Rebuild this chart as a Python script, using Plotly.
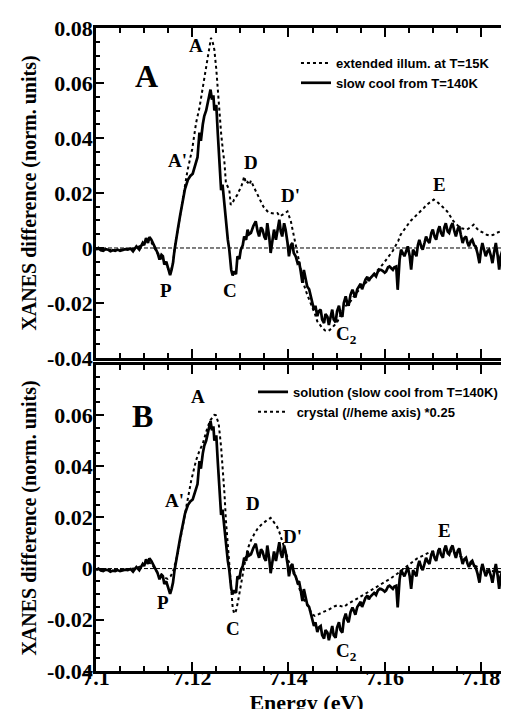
import plotly.graph_objects as go

# ---------------- data (energy in keV as labelled on the axis) ----------------
solid_E = [7.1000, 7.1005, 7.1010, 7.1015, 7.1020, 7.1025, 7.1030, 7.1035, 7.1040, 7.1045,
           7.1050, 7.1056, 7.1061, 7.1066, 7.1072, 7.1077, 7.1084, 7.1090, 7.1097, 7.1100,
           7.1104, 7.1108, 7.1111, 7.1115, 7.1118, 7.1122, 7.1128, 7.1132, 7.1136, 7.1139,
           7.1142, 7.1146, 7.1149, 7.1152, 7.1154, 7.1157, 7.1160, 7.1163, 7.1166, 7.1170,
           7.1175, 7.1180, 7.1185, 7.1191, 7.1196, 7.1201, 7.1206, 7.1211, 7.1215, 7.1218,
           7.1222, 7.1225, 7.1229, 7.1232, 7.1236, 7.1238, 7.1241, 7.1244, 7.1246, 7.1250,
           7.1253, 7.1256, 7.1260, 7.1263, 7.1266, 7.1270, 7.1274, 7.1277, 7.1281, 7.1284,
           7.1287, 7.1291, 7.1294, 7.1298, 7.1301, 7.1305, 7.1308, 7.1312, 7.1315, 7.1318,
           7.1322, 7.1327, 7.1332, 7.1336, 7.1339, 7.1343, 7.1346, 7.1350, 7.1353, 7.1356,
           7.1360, 7.1363, 7.1367, 7.1370, 7.1374, 7.1378, 7.1381, 7.1384, 7.1387, 7.1391,
           7.1394, 7.1398, 7.1401, 7.1405, 7.1408, 7.1411, 7.1415, 7.1419, 7.1422, 7.1425,
           7.1429, 7.1432, 7.1436, 7.1439, 7.1443, 7.1446, 7.1450, 7.1453, 7.1456, 7.1460,
           7.1463, 7.1467, 7.1470, 7.1474, 7.1477, 7.1481, 7.1484, 7.1487, 7.1491, 7.1494,
           7.1498, 7.1501, 7.1505, 7.1508, 7.1512, 7.1515, 7.1519, 7.1522, 7.1525, 7.1529,
           7.1533, 7.1536, 7.1539, 7.1543, 7.1547, 7.1550, 7.1553, 7.1557, 7.1560, 7.1564,
           7.1567, 7.1570, 7.1574, 7.1578, 7.1582, 7.1586, 7.1590, 7.1593, 7.1597, 7.1600,
           7.1603, 7.1607, 7.1610, 7.1614, 7.1617, 7.1620, 7.1624, 7.1627, 7.1631, 7.1634,
           7.1638, 7.1641, 7.1645, 7.1648, 7.1652, 7.1655, 7.1659, 7.1662, 7.1666, 7.1669,
           7.1672, 7.1676, 7.1679, 7.1683, 7.1686, 7.1690, 7.1693, 7.1697, 7.1700, 7.1704,
           7.1707, 7.1711, 7.1714, 7.1717, 7.1721, 7.1724, 7.1727, 7.1731, 7.1734, 7.1738,
           7.1741, 7.1745, 7.1748, 7.1752, 7.1755, 7.1758, 7.1762, 7.1765, 7.1769, 7.1772,
           7.1775, 7.1779, 7.1782, 7.1786, 7.1789, 7.1793, 7.1797, 7.1800, 7.1803, 7.1807,
           7.1810, 7.1814, 7.1817, 7.1821, 7.1824, 7.1828, 7.1831, 7.1835, 7.1838, 7.1841,
           7.1845, 7.1848, 7.1851, 7.1855, 7.1858, 7.1862, 7.1865, 7.1868, 7.1872, 7.1876]
solid_V = [-0.0006, 0.0000, -0.0008, -0.0010, -0.0004, -0.0006, -0.0012, -0.0008, -0.0010, -0.0006,
           -0.0010, -0.0008, -0.0004, -0.0006, -0.0002, -0.0012, 0.0006, -0.0006, 0.0018, 0.0010,
           0.0036, 0.0018, 0.0040, 0.0030, 0.0020, 0.0006, -0.0018, -0.0042, -0.0025, -0.0030,
           -0.0060, -0.0050, -0.0067, -0.0085, -0.0099, -0.0080, -0.0055, -0.0010, 0.0030, 0.0067,
           0.0120, 0.0176, 0.0215, 0.0248, 0.0262, 0.0270, 0.0300, 0.0330, 0.0420, 0.0390,
           0.0450, 0.0480, 0.0500, 0.0530, 0.0560, 0.0576, 0.0540, 0.0555, 0.0500, 0.0520,
           0.0420, 0.0310, 0.0210, 0.0230, 0.0170, 0.0090, 0.0030, -0.0006, -0.0079, -0.0100,
           -0.0085, -0.0095, -0.0030, -0.0040, -0.0006, 0.0010, 0.0042, 0.0030, 0.0067, 0.0050,
           0.0055, 0.0080, 0.0097, 0.0060, 0.0042, 0.0075, 0.0067, 0.0040, 0.0030, 0.0090,
           0.0040, -0.0018, 0.0030, 0.0067, 0.0030, 0.0080, 0.0103, 0.0060, 0.0042, 0.0090,
           0.0067, 0.0020, -0.0030, 0.0010, 0.0018, -0.0018, -0.0030, -0.0055, -0.0050, -0.0079,
           -0.0127, -0.0080, -0.0110, -0.0140, -0.0150, -0.0176, -0.0200, -0.0224, -0.0210, -0.0248,
           -0.0230, -0.0224, -0.0260, -0.0273, -0.0240, -0.0250, -0.0280, -0.0250, -0.0224, -0.0260,
           -0.0270, -0.0230, -0.0210, -0.0240, -0.0250, -0.0200, -0.0176, -0.0200, -0.0210, -0.0170,
           -0.0152, -0.0165, -0.0180, -0.0150, -0.0140, -0.0130, -0.0150, -0.0125, -0.0115, -0.0105,
           -0.0120, -0.0110, -0.0103, -0.0095, -0.0103, -0.0085, -0.0079, -0.0080, -0.0085, -0.0090,
           -0.0085, -0.0070, -0.0067, -0.0075, -0.0079, -0.0070, -0.0067, -0.0152, -0.0042, -0.0006,
           -0.0020, -0.0030, -0.0010, 0.0006, -0.0030, -0.0079, -0.0006, -0.0015, -0.0030, 0.0010,
           0.0030, 0.0005, -0.0006, 0.0020, 0.0042, 0.0025, 0.0018, 0.0055, 0.0067, 0.0040,
           0.0030, 0.0065, 0.0079, 0.0055, 0.0042, 0.0075, 0.0090, 0.0060, 0.0055, 0.0080,
           0.0090, 0.0060, 0.0042, 0.0070, 0.0079, 0.0050, 0.0018, 0.0035, 0.0042, 0.0020,
           0.0006, 0.0025, 0.0030, 0.0010, 0.0006, -0.0020, -0.0055, -0.0010, 0.0018, -0.0010,
           -0.0030, -0.0010, -0.0006, -0.0030, -0.0055, -0.0010, 0.0018, -0.0030, -0.0079, -0.0030,
           -0.0006, -0.0030, -0.0055, -0.0030, -0.0018, -0.0040, -0.0055, -0.0030, -0.0030, -0.0045]

illum_E = [7.1000, 7.1020, 7.1040, 7.1060, 7.1080, 7.1095, 7.1105, 7.1112, 7.1120, 7.1128,
           7.1135, 7.1142, 7.1148, 7.1154, 7.1160, 7.1165, 7.1170, 7.1180, 7.1190, 7.1200,
           7.1208, 7.1215, 7.1222, 7.1230, 7.1235, 7.1239, 7.1243, 7.1246, 7.1250, 7.1253,
           7.1257, 7.1260, 7.1264, 7.1267, 7.1270, 7.1274, 7.1277, 7.1280, 7.1284, 7.1287,
           7.1291, 7.1294, 7.1298, 7.1301, 7.1305, 7.1308, 7.1312, 7.1315, 7.1319, 7.1322,
           7.1329, 7.1336, 7.1343, 7.1348, 7.1353, 7.1358, 7.1363, 7.1370, 7.1377, 7.1382,
           7.1387, 7.1392, 7.1398, 7.1405, 7.1412, 7.1419, 7.1425, 7.1432, 7.1439, 7.1445,
           7.1450, 7.1455, 7.1460, 7.1465, 7.1470, 7.1476, 7.1481, 7.1486, 7.1491, 7.1496,
           7.1502, 7.1508, 7.1515, 7.1522, 7.1529, 7.1536, 7.1543, 7.1550, 7.1557, 7.1564,
           7.1571, 7.1578, 7.1584, 7.1591, 7.1598, 7.1605, 7.1612, 7.1617, 7.1622, 7.1628,
           7.1633, 7.1640, 7.1647, 7.1653, 7.1660, 7.1667, 7.1674, 7.1681, 7.1688, 7.1695,
           7.1702, 7.1709, 7.1716, 7.1723, 7.1730, 7.1737, 7.1743, 7.1750, 7.1757, 7.1764,
           7.1771, 7.1778, 7.1785, 7.1792, 7.1799, 7.1806, 7.1812, 7.1819, 7.1826, 7.1833,
           7.1840, 7.1847, 7.1854, 7.1861, 7.1868, 7.1875]
illum_V = [-0.0004, -0.0006, -0.0008, -0.0005, -0.0002, 0.0010, 0.0030, 0.0030, 0.0005, -0.0020,
           -0.0030, -0.0055, -0.0065, -0.0095, -0.0055, 0.0020, 0.0067, 0.0180, 0.0280, 0.0360,
           0.0455, 0.0510, 0.0580, 0.0660, 0.0720, 0.0764, 0.0745, 0.0721, 0.0650, 0.0576,
           0.0490, 0.0418, 0.0350, 0.0310, 0.0236, 0.0220, 0.0212, 0.0157, 0.0164, 0.0176,
           0.0185, 0.0194, 0.0210, 0.0218, 0.0240, 0.0260, 0.0235, 0.0240, 0.0230, 0.0245,
           0.0218, 0.0195, 0.0170, 0.0150, 0.0140, 0.0130, 0.0127, 0.0125, 0.0127, 0.0115,
           0.0120, 0.0125, 0.0133, 0.0097, 0.0036, -0.0024, -0.0085, -0.0133, -0.0170, -0.0195,
           -0.0218, -0.0240, -0.0267, -0.0280, -0.0290, -0.0300, -0.0303, -0.0298, -0.0290, -0.0280,
           -0.0267, -0.0245, -0.0218, -0.0205, -0.0194, -0.0175, -0.0158, -0.0145, -0.0133, -0.0120,
           -0.0109, -0.0097, -0.0085, -0.0070, -0.0055, -0.0040, -0.0024, -0.0010, 0.0006, 0.0025,
           0.0048, 0.0065, 0.0085, 0.0097, 0.0109, 0.0120, 0.0133, 0.0145, 0.0158, 0.0168,
           0.0176, 0.0168, 0.0158, 0.0145, 0.0133, 0.0115, 0.0097, 0.0085, 0.0073, 0.0070,
           0.0067, 0.0075, 0.0085, 0.0070, 0.0060, 0.0055, 0.0048, 0.0045, 0.0048, 0.0055,
           0.0060, 0.0045, 0.0036, 0.0050, 0.0060, 0.0045]

crystal_E = [7.1000, 7.1020, 7.1040, 7.1060, 7.1080, 7.1095, 7.1105, 7.1115, 7.1122, 7.1128,
             7.1135, 7.1142, 7.1149, 7.1155, 7.1160, 7.1165, 7.1170, 7.1180, 7.1191, 7.1198,
             7.1208, 7.1215, 7.1222, 7.1232, 7.1238, 7.1242, 7.1246, 7.1249, 7.1255, 7.1260,
             7.1264, 7.1267, 7.1270, 7.1274, 7.1277, 7.1281, 7.1284, 7.1287, 7.1291, 7.1295,
             7.1301, 7.1306, 7.1312, 7.1317, 7.1322, 7.1329, 7.1336, 7.1343, 7.1350, 7.1356,
             7.1363, 7.1370, 7.1376, 7.1381, 7.1388, 7.1394, 7.1400, 7.1406, 7.1412, 7.1418,
             7.1425, 7.1432, 7.1439, 7.1445, 7.1450, 7.1455, 7.1460, 7.1467, 7.1474, 7.1481,
             7.1488, 7.1495, 7.1502, 7.1508, 7.1515, 7.1522, 7.1530, 7.1543, 7.1560, 7.1578,
             7.1595, 7.1612, 7.1626, 7.1640, 7.1653, 7.1667, 7.1681, 7.1695, 7.1709, 7.1723,
             7.1733, 7.1743, 7.1754, 7.1764, 7.1775, 7.1785, 7.1798, 7.1812, 7.1826, 7.1840,
             7.1854, 7.1868, 7.1876]
crystal_V = [-0.0002, -0.0004, -0.0006, -0.0003, 0.0000, 0.0010, 0.0025, 0.0020, 0.0000, -0.0015,
             -0.0020, -0.0035, -0.0040, -0.0030, -0.0013, 0.0020, 0.0059, 0.0163, 0.0267, 0.0345,
             0.0423, 0.0460, 0.0488, 0.0553, 0.0580, 0.0592, 0.0600, 0.0599, 0.0566, 0.0475,
             0.0380, 0.0293, 0.0189, 0.0090, -0.0007, -0.0090, -0.0150, -0.0176, -0.0165, -0.0130,
             -0.0065, -0.0005, 0.0052, 0.0085, 0.0110, 0.0135, 0.0156, 0.0170, 0.0182, 0.0190,
             0.0198, 0.0182, 0.0165, 0.0143, 0.0098, 0.0065, 0.0030, 0.0010, -0.0013, -0.0050,
             -0.0091, -0.0120, -0.0143, -0.0165, -0.0180, -0.0185, -0.0180, -0.0175, -0.0168, -0.0163,
             -0.0155, -0.0148, -0.0143, -0.0145, -0.0150, -0.0140, -0.0130, -0.0117, -0.0098, -0.0078,
             -0.0058, -0.0039, -0.0020, 0.0000, 0.0020, 0.0039, 0.0052, 0.0065, 0.0070, 0.0072,
             0.0070, 0.0065, 0.0052, 0.0039, 0.0026, 0.0013, 0.0003, -0.0007, -0.0010, -0.0013,
             -0.0012, -0.0013, -0.0015]

y_tickvals = [-0.04, -0.02, 0, 0.02, 0.04, 0.06, 0.08]
y_ticktext = ["-0.04", "-0.02", "0", "0.02", "0.04", "0.06", "0.08"]
x_tickvals = [7.10, 7.12, 7.14, 7.16, 7.18]
x_ticktext = ["7.1", "7.12", "7.14", "7.16", "7.18"]

# peak labels: (text, energy, value)
labels_top = [("A", 7.1207, 0.0735), ("A'", 7.1170, 0.0320), ("D", 7.1323, 0.0310),
              ("D'", 7.1404, 0.0190), ("P", 7.1145, -0.0153), ("C", 7.1278, -0.0156),
              ("C<sub>2</sub>", 7.1520, -0.0316), ("E", 7.1713, 0.0230)]
labels_bot = [("A", 7.1211, 0.0672), ("A'", 7.1164, 0.0266), ("D", 7.1327, 0.0254),
              ("D'", 7.1408, 0.0125), ("P", 7.1139, -0.0133), ("C", 7.1284, -0.0234),
              ("C<sub>2</sub>", 7.1520, -0.0324), ("E", 7.1725, 0.0148)]

SERIF = "Liberation Serif, Times New Roman, serif"
SANS = "Liberation Sans, Arial, sans-serif"

fig = go.Figure()
# top panel (x2, y)
fig.add_trace(go.Scatter(x=illum_E, y=illum_V, mode="lines", name="extended illum. at T=15K",
                         line=dict(color="black", width=2, dash="dot"),
                         xaxis="x2", yaxis="y", legend="legend"))
fig.add_trace(go.Scatter(x=solid_E, y=solid_V, mode="lines", name="slow cool from T=140K",
                         line=dict(color="black", width=2.7),
                         xaxis="x2", yaxis="y", legend="legend"))
# bottom panel (x, y2)
fig.add_trace(go.Scatter(x=solid_E, y=solid_V, mode="lines", name="solution (slow cool from T=140K)",
                         line=dict(color="black", width=2.7),
                         xaxis="x", yaxis="y2", legend="legend2"))
fig.add_trace(go.Scatter(x=crystal_E, y=crystal_V, mode="lines", name=" crystal (//heme axis) *0.25",
                         line=dict(color="black", width=2, dash="dot"),
                         xaxis="x", yaxis="y2", legend="legend2"))

def tickfont():
    return dict(family=SERIF, size=22, color="black", weight="bold")

def xcommon():
    return dict(range=[7.1, 7.1875], showline=True, linecolor="black", linewidth=2.5,
                mirror="ticks", ticks="inside", ticklen=9, tickwidth=2, tickcolor="black",
                tickmode="array", tickvals=x_tickvals, ticktext=x_ticktext,
                minor=dict(tick0=7.1, dtick=0.005, ticks="inside", ticklen=5, tickwidth=1.5,
                           tickcolor="black"),
                showgrid=False, zeroline=False, automargin=False, tickfont=tickfont(),
                ticklabelstandoff=-15)

def ycommon():
    return dict(showline=True, linecolor="black", linewidth=2.5, mirror=False,
                ticks="inside", ticklen=8, tickwidth=2, tickcolor="black",
                tickmode="array", tickvals=y_tickvals, ticktext=y_ticktext,
                minor=dict(tick0=0, dtick=0.005, ticks="inside", ticklen=4, tickwidth=1.5,
                           tickcolor="black"),
                showgrid=False, zeroline=False, automargin=False, tickfont=tickfont(),
                ticklabelstandoff=-4,
                title=dict(text="XANES difference (norm. units)",
                           font=dict(family=SERIF, size=20, color="black", weight="bold"),
                           standoff=6))

fig.update_layout(
    width=509, height=709,
    margin=dict(l=88, r=0, t=20, b=46),
    font=dict(family=SERIF, color="black", weight="bold"),
    plot_bgcolor="white", paper_bgcolor="white",
    xaxis=dict(anchor="y2", showticklabels=True,
               title=dict(text="Energy (eV)", standoff=0,
                          font=dict(family=SERIF, size=22, color="black", weight="bold")),
               **xcommon()),
    xaxis2=dict(anchor="y", matches="x", showticklabels=False, **xcommon()),
    yaxis=dict(domain=[0.4868, 1.0], range=[-0.04, 0.08], anchor="x2", **ycommon()),
    yaxis2=dict(domain=[0.0, 0.4759], range=[-0.04, 0.0795], anchor="x", **ycommon()),
    legend=dict(x=0.475, y=0.969, xanchor="left", yanchor="top", bgcolor="rgba(0,0,0,0)",
                font=dict(family=SANS, size=13, color="black", weight="bold"),
                tracegroupgap=0, itemwidth=30),
    legend2=dict(x=0.373, y=0.4575, xanchor="left", yanchor="top", bgcolor="rgba(0,0,0,0)",
                 font=dict(family=SANS, size=13, color="black", weight="bold"),
                 tracegroupgap=0, itemwidth=30),
    showlegend=True,
)

# dashed zero reference lines
for xr, yr in (("x2 domain", "y"), ("x domain", "y2")):
    fig.add_shape(type="line", xref=xr, yref=yr, x0=0, x1=1, y0=0, y1=0,
                  line=dict(color="black", width=1, dash="4px,2px"), layer="below")

# panel letters
fig.add_annotation(text="A", xref="x2 domain", yref="y domain", x=0.088, y=0.915,
                   showarrow=False, font=dict(family=SERIF, size=32, color="black", weight="bold"))
fig.add_annotation(text="B", xref="x domain", yref="y2 domain", x=0.081, y=0.899,
                   showarrow=False, font=dict(family=SERIF, size=32, color="black", weight="bold"))

lab_font = dict(family=SERIF, size=19, color="black", weight="bold")
for t, ex, vy in labels_top:
    fig.add_annotation(text=t, x=ex, y=vy, xref="x2", yref="y", showarrow=False, font=lab_font)
for t, ex, vy in labels_bot:
    fig.add_annotation(text=t, x=ex, y=vy, xref="x", yref="y2", showarrow=False, font=lab_font)

fig.write_html("out.html")
